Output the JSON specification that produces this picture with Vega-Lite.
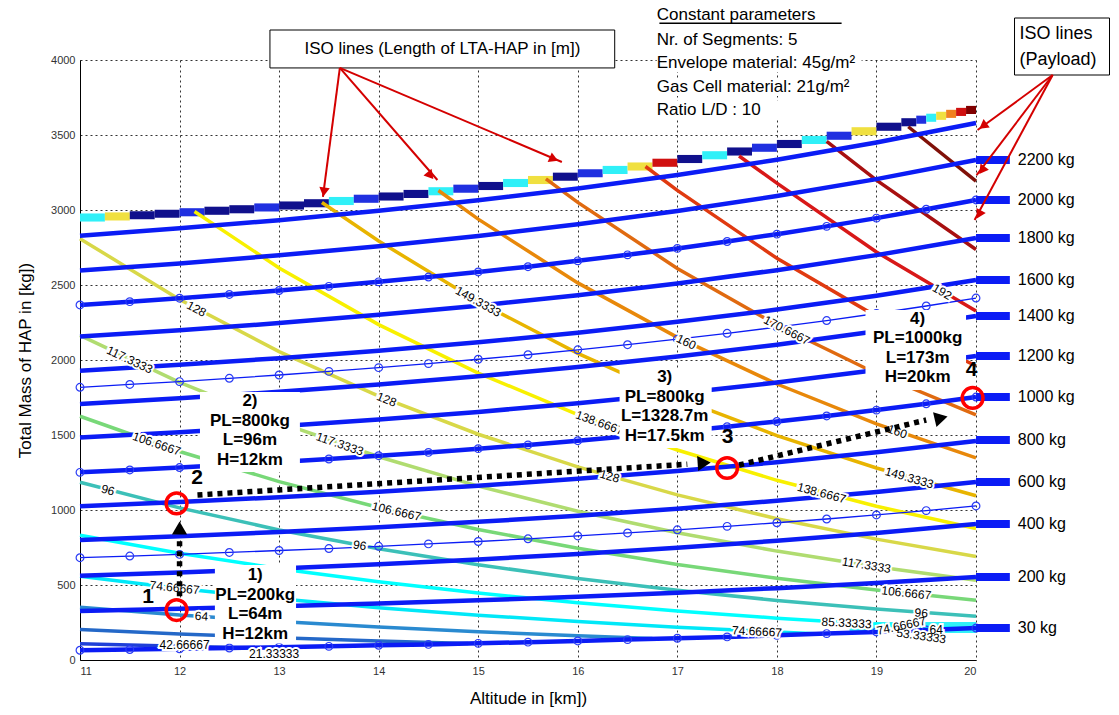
{
"$schema": "https://vega.github.io/schema/vega-lite/v6.json",
"width": 896, "height": 600,
"autosize": {"type": "none"},
"padding": {"left": 80, "top": 60, "right": 143, "bottom": 55},
"background": "white",
"config": {"view": {"stroke": null}, "font": "Liberation Sans"},
"resolve": {"scale": {"color": "independent"}},
"datasets": {
"pay": [
{"id":"p2400","k":"thick","h":11,"m":2829},{"id":"p2400","k":"thick","h":12,"m":2878},{"id":"p2400","k":"thick","h":13,"m":2932},{"id":"p2400","k":"thick","h":14,"m":2995},{"id":"p2400","k":"thick","h":15,"m":3065},{"id":"p2400","k":"thick","h":16,"m":3144},{"id":"p2400","k":"thick","h":17,"m":3234},{"id":"p2400","k":"thick","h":18,"m":3335},{"id":"p2400","k":"thick","h":19,"m":3450},{"id":"p2400","k":"thick","h":20,"m":3580},
{"id":"p2200","k":"thick","h":11,"m":2596},{"id":"p2200","k":"thick","h":12,"m":2644},{"id":"p2200","k":"thick","h":13,"m":2698},{"id":"p2200","k":"thick","h":14,"m":2758},{"id":"p2200","k":"thick","h":15,"m":2827},{"id":"p2200","k":"thick","h":16,"m":2905},{"id":"p2200","k":"thick","h":17,"m":2993},{"id":"p2200","k":"thick","h":18,"m":3093},{"id":"p2200","k":"thick","h":19,"m":3206},{"id":"p2200","k":"thick","h":20,"m":3333},
{"id":"p2000","k":"thick","h":11,"m":2367},{"id":"p2000","k":"thick","h":11.5,"m":2389},{"id":"p2000","k":"thick","h":12,"m":2412},{"id":"p2000","k":"thick","h":12.5,"m":2437},{"id":"p2000","k":"thick","h":13,"m":2463},{"id":"p2000","k":"thick","h":13.5,"m":2491},{"id":"p2000","k":"thick","h":14,"m":2521},{"id":"p2000","k":"thick","h":14.5,"m":2553},{"id":"p2000","k":"thick","h":15,"m":2587},{"id":"p2000","k":"thick","h":15.5,"m":2622},{"id":"p2000","k":"thick","h":16,"m":2661},{"id":"p2000","k":"thick","h":16.5,"m":2701},{"id":"p2000","k":"thick","h":17,"m":2744},{"id":"p2000","k":"thick","h":17.5,"m":2790},{"id":"p2000","k":"thick","h":18,"m":2839},{"id":"p2000","k":"thick","h":18.5,"m":2891},{"id":"p2000","k":"thick","h":19,"m":2946},{"id":"p2000","k":"thick","h":19.5,"m":3005},{"id":"p2000","k":"thick","h":20,"m":3067},
{"id":"p1800","k":"thick","h":11,"m":2156},{"id":"p1800","k":"thick","h":12,"m":2198},{"id":"p1800","k":"thick","h":13,"m":2246},{"id":"p1800","k":"thick","h":14,"m":2301},{"id":"p1800","k":"thick","h":15,"m":2362},{"id":"p1800","k":"thick","h":16,"m":2432},{"id":"p1800","k":"thick","h":17,"m":2510},{"id":"p1800","k":"thick","h":18,"m":2599},{"id":"p1800","k":"thick","h":19,"m":2699},{"id":"p1800","k":"thick","h":20,"m":2813},
{"id":"p1600","k":"thick","h":11,"m":1929},{"id":"p1600","k":"thick","h":12,"m":1968},{"id":"p1600","k":"thick","h":13,"m":2012},{"id":"p1600","k":"thick","h":14,"m":2062},{"id":"p1600","k":"thick","h":15,"m":2118},{"id":"p1600","k":"thick","h":16,"m":2182},{"id":"p1600","k":"thick","h":17,"m":2255},{"id":"p1600","k":"thick","h":18,"m":2336},{"id":"p1600","k":"thick","h":19,"m":2429},{"id":"p1600","k":"thick","h":20,"m":2533},
{"id":"p1500","k":"thin","h":11,"m":1818},{"id":"p1500","k":"thin","h":11.5,"m":1837},{"id":"p1500","k":"thin","h":12,"m":1856},{"id":"p1500","k":"thin","h":12.5,"m":1878},{"id":"p1500","k":"thin","h":13,"m":1900},{"id":"p1500","k":"thin","h":13.5,"m":1924},{"id":"p1500","k":"thin","h":14,"m":1949},{"id":"p1500","k":"thin","h":14.5,"m":1976},{"id":"p1500","k":"thin","h":15,"m":2005},{"id":"p1500","k":"thin","h":15.5,"m":2035},{"id":"p1500","k":"thin","h":16,"m":2068},{"id":"p1500","k":"thin","h":16.5,"m":2102},{"id":"p1500","k":"thin","h":17,"m":2139},{"id":"p1500","k":"thin","h":17.5,"m":2178},{"id":"p1500","k":"thin","h":18,"m":2219},{"id":"p1500","k":"thin","h":18.5,"m":2263},{"id":"p1500","k":"thin","h":19,"m":2310},{"id":"p1500","k":"thin","h":19.5,"m":2360},{"id":"p1500","k":"thin","h":20,"m":2413},
{"id":"p1400","k":"thick","h":11,"m":1707},{"id":"p1400","k":"thick","h":12,"m":1745},{"id":"p1400","k":"thick","h":13,"m":1788},{"id":"p1400","k":"thick","h":14,"m":1836},{"id":"p1400","k":"thick","h":15,"m":1891},{"id":"p1400","k":"thick","h":16,"m":1953},{"id":"p1400","k":"thick","h":17,"m":2023},{"id":"p1400","k":"thick","h":18,"m":2102},{"id":"p1400","k":"thick","h":19,"m":2192},{"id":"p1400","k":"thick","h":20,"m":2293},
{"id":"p1200","k":"thick","h":11,"m":1484},{"id":"p1200","k":"thick","h":12,"m":1519},{"id":"p1200","k":"thick","h":13,"m":1559},{"id":"p1200","k":"thick","h":14,"m":1604},{"id":"p1200","k":"thick","h":15,"m":1654},{"id":"p1200","k":"thick","h":16,"m":1712},{"id":"p1200","k":"thick","h":17,"m":1777},{"id":"p1200","k":"thick","h":18,"m":1850},{"id":"p1200","k":"thick","h":19,"m":1933},{"id":"p1200","k":"thick","h":20,"m":2027},
{"id":"p1000","k":"thick","h":11,"m":1251},{"id":"p1000","k":"thick","h":11.5,"m":1267},{"id":"p1000","k":"thick","h":12,"m":1283},{"id":"p1000","k":"thick","h":12.5,"m":1301},{"id":"p1000","k":"thick","h":13,"m":1320},{"id":"p1000","k":"thick","h":13.5,"m":1340},{"id":"p1000","k":"thick","h":14,"m":1362},{"id":"p1000","k":"thick","h":14.5,"m":1384},{"id":"p1000","k":"thick","h":15,"m":1409},{"id":"p1000","k":"thick","h":15.5,"m":1434},{"id":"p1000","k":"thick","h":16,"m":1462},{"id":"p1000","k":"thick","h":16.5,"m":1491},{"id":"p1000","k":"thick","h":17,"m":1522},{"id":"p1000","k":"thick","h":17.5,"m":1555},{"id":"p1000","k":"thick","h":18,"m":1590},{"id":"p1000","k":"thick","h":18.5,"m":1627},{"id":"p1000","k":"thick","h":19,"m":1666},{"id":"p1000","k":"thick","h":19.5,"m":1708},{"id":"p1000","k":"thick","h":20,"m":1753},
{"id":"p800","k":"thick","h":11,"m":1025},{"id":"p800","k":"thick","h":12,"m":1053},{"id":"p800","k":"thick","h":13,"m":1085},{"id":"p800","k":"thick","h":14,"m":1121},{"id":"p800","k":"thick","h":15,"m":1162},{"id":"p800","k":"thick","h":16,"m":1208},{"id":"p800","k":"thick","h":17,"m":1260},{"id":"p800","k":"thick","h":18,"m":1318},{"id":"p800","k":"thick","h":19,"m":1385},{"id":"p800","k":"thick","h":20,"m":1460},
{"id":"p600","k":"thick","h":11,"m":800},{"id":"p600","k":"thick","h":12,"m":825},{"id":"p600","k":"thick","h":13,"m":853},{"id":"p600","k":"thick","h":14,"m":885},{"id":"p600","k":"thick","h":15,"m":921},{"id":"p600","k":"thick","h":16,"m":962},{"id":"p600","k":"thick","h":17,"m":1009},{"id":"p600","k":"thick","h":18,"m":1061},{"id":"p600","k":"thick","h":19,"m":1120},{"id":"p600","k":"thick","h":20,"m":1187},
{"id":"p500","k":"thin","h":11,"m":682},{"id":"p500","k":"thin","h":11.5,"m":693},{"id":"p500","k":"thin","h":12,"m":704},{"id":"p500","k":"thin","h":12.5,"m":717},{"id":"p500","k":"thin","h":13,"m":730},{"id":"p500","k":"thin","h":13.5,"m":743},{"id":"p500","k":"thin","h":14,"m":758},{"id":"p500","k":"thin","h":14.5,"m":774},{"id":"p500","k":"thin","h":15,"m":790},{"id":"p500","k":"thin","h":15.5,"m":808},{"id":"p500","k":"thin","h":16,"m":827},{"id":"p500","k":"thin","h":16.5,"m":847},{"id":"p500","k":"thin","h":17,"m":868},{"id":"p500","k":"thin","h":17.5,"m":891},{"id":"p500","k":"thin","h":18,"m":915},{"id":"p500","k":"thin","h":18.5,"m":940},{"id":"p500","k":"thin","h":19,"m":967},{"id":"p500","k":"thin","h":19.5,"m":996},{"id":"p500","k":"thin","h":20,"m":1027},
{"id":"p400","k":"thick","h":11,"m":562},{"id":"p400","k":"thick","h":12,"m":584},{"id":"p400","k":"thick","h":13,"m":610},{"id":"p400","k":"thick","h":14,"m":638},{"id":"p400","k":"thick","h":15,"m":670},{"id":"p400","k":"thick","h":16,"m":707},{"id":"p400","k":"thick","h":17,"m":748},{"id":"p400","k":"thick","h":18,"m":795},{"id":"p400","k":"thick","h":19,"m":847},{"id":"p400","k":"thick","h":20,"m":907},
{"id":"p200","k":"thick","h":11,"m":327},{"id":"p200","k":"thick","h":12,"m":342},{"id":"p200","k":"thick","h":13,"m":358},{"id":"p200","k":"thick","h":14,"m":377},{"id":"p200","k":"thick","h":15,"m":398},{"id":"p200","k":"thick","h":16,"m":422},{"id":"p200","k":"thick","h":17,"m":449},{"id":"p200","k":"thick","h":18,"m":479},{"id":"p200","k":"thick","h":19,"m":514},{"id":"p200","k":"thick","h":20,"m":553},
{"id":"p30","k":"thick","h":11,"m":65},{"id":"p30","k":"thick","h":11.5,"m":70},{"id":"p30","k":"thick","h":12,"m":75},{"id":"p30","k":"thick","h":12.5,"m":80},{"id":"p30","k":"thick","h":13,"m":85},{"id":"p30","k":"thick","h":13.5,"m":91},{"id":"p30","k":"thick","h":14,"m":98},{"id":"p30","k":"thick","h":14.5,"m":104},{"id":"p30","k":"thick","h":15,"m":111},{"id":"p30","k":"thick","h":15.5,"m":119},{"id":"p30","k":"thick","h":16,"m":127},{"id":"p30","k":"thick","h":16.5,"m":136},{"id":"p30","k":"thick","h":17,"m":145},{"id":"p30","k":"thick","h":17.5,"m":154},{"id":"p30","k":"thick","h":18,"m":165},{"id":"p30","k":"thick","h":18.5,"m":176},{"id":"p30","k":"thick","h":19,"m":187},{"id":"p30","k":"thick","h":19.5,"m":200},{"id":"p30","k":"thick","h":20,"m":213}
],
"con": [
{"L":"42.67","h":11,"m":108},{"L":"42.67","h":12,"m":92},{"L":"42.67","h":12.7,"m":82},
{"L":"53.33","h":11,"m":203},{"L":"53.33","h":12,"m":174},{"L":"53.33","h":13,"m":149},{"L":"53.33","h":14,"m":127},{"L":"53.33","h":14.9,"m":110},
{"L":"64","h":11,"m":351},{"L":"64","h":12,"m":300},{"L":"64","h":13,"m":257},{"L":"64","h":14,"m":220},{"L":"64","h":15,"m":188},{"L":"64","h":16,"m":161},{"L":"64","h":16.75,"m":143},
{"L":"74.67","h":11,"m":558},{"L":"74.67","h":12,"m":477},{"L":"74.67","h":13,"m":408},{"L":"74.67","h":14,"m":349},{"L":"74.67","h":15,"m":299},{"L":"74.67","h":16,"m":256},{"L":"74.67","h":17,"m":219},{"L":"74.67","h":18,"m":187},{"L":"74.67","h":18.45,"m":174},
{"L":"85.33","h":11,"m":832},{"L":"85.33","h":12,"m":712},{"L":"85.33","h":13,"m":609},{"L":"85.33","h":14,"m":521},{"L":"85.33","h":15,"m":446},{"L":"85.33","h":16,"m":381},{"L":"85.33","h":17,"m":326},{"L":"85.33","h":18,"m":279},{"L":"85.33","h":19,"m":239},{"L":"85.33","h":19.85,"m":209},
{"L":"96","h":11,"m":1185},{"L":"96","h":12,"m":1014},{"L":"96","h":13,"m":867},{"L":"96","h":14,"m":742},{"L":"96","h":15,"m":635},{"L":"96","h":16,"m":543},{"L":"96","h":17,"m":465},{"L":"96","h":18,"m":397},{"L":"96","h":19,"m":340},{"L":"96","h":20,"m":291},
{"L":"106.67","h":11,"m":1625},{"L":"106.67","h":12,"m":1390},{"L":"106.67","h":13,"m":1189},{"L":"106.67","h":14,"m":1017},{"L":"106.67","h":15,"m":870},{"L":"106.67","h":16,"m":745},{"L":"106.67","h":17,"m":637},{"L":"106.67","h":18,"m":545},{"L":"106.67","h":19,"m":466},{"L":"106.67","h":20,"m":399},
{"L":"117.33","h":11,"m":2164},{"L":"117.33","h":12,"m":1851},{"L":"117.33","h":13,"m":1584},{"L":"117.33","h":14,"m":1355},{"L":"117.33","h":15,"m":1159},{"L":"117.33","h":16,"m":992},{"L":"117.33","h":17,"m":848},{"L":"117.33","h":18,"m":726},{"L":"117.33","h":19,"m":621},{"L":"117.33","h":20,"m":531},
{"L":"128","h":11,"m":2809},{"L":"128","h":12,"m":2403},{"L":"128","h":13,"m":2056},{"L":"128","h":14,"m":1759},{"L":"128","h":15,"m":1505},{"L":"128","h":16,"m":1287},{"L":"128","h":17,"m":1101},{"L":"128","h":18,"m":942},{"L":"128","h":19,"m":806},{"L":"128","h":20,"m":690},
{"L":"138.67","h":12.15,"m":2990},{"L":"138.67","h":13,"m":2614},{"L":"138.67","h":14,"m":2236},{"L":"138.67","h":15,"m":1913},{"L":"138.67","h":16,"m":1636},{"L":"138.67","h":17,"m":1400},{"L":"138.67","h":18,"m":1198},{"L":"138.67","h":19,"m":1025},{"L":"138.67","h":20,"m":877},
{"L":"149.33","h":13.43,"m":3050},{"L":"149.33","h":14,"m":2793},{"L":"149.33","h":15,"m":2389},{"L":"149.33","h":16,"m":2044},{"L":"149.33","h":17,"m":1748},{"L":"149.33","h":18,"m":1496},{"L":"149.33","h":19,"m":1280},{"L":"149.33","h":20,"m":1095},
{"L":"160","h":14.6,"m":3130},{"L":"160","h":15,"m":2939},{"L":"160","h":16,"m":2514},{"L":"160","h":17,"m":2151},{"L":"160","h":18,"m":1840},{"L":"160","h":19,"m":1574},{"L":"160","h":20,"m":1347},
{"L":"170.67","h":15.68,"m":3207},{"L":"170.67","h":16,"m":3051},{"L":"170.67","h":17,"m":2610},{"L":"170.67","h":18,"m":2233},{"L":"170.67","h":19,"m":1910},{"L":"170.67","h":20,"m":1634},
{"L":"181.33","h":16.68,"m":3290},{"L":"181.33","h":17,"m":3131},{"L":"181.33","h":18,"m":2678},{"L":"181.33","h":19,"m":2291},{"L":"181.33","h":20,"m":1960},
{"L":"192","h":17.62,"m":3360},{"L":"192","h":18,"m":3179},{"L":"192","h":19,"m":2720},{"L":"192","h":20,"m":2327},
{"L":"202.67","h":18.5,"m":3457},{"L":"202.67","h":19,"m":3199},{"L":"202.67","h":20,"m":2737},
{"L":"213.33","h":19.32,"m":3555},{"L":"213.33","h":20,"m":3192}
],
"band": [
{"h":11,"h2":11.25,"m":2923,"m2":2977,"c":"cy"},{"h":11.25,"h2":11.5,"m":2930,"m2":2984,"c":"ye"},{"h":11.5,"h2":11.75,"m":2938,"m2":2992,"c":"db"},{"h":11.75,"h2":12,"m":2948,"m2":3002,"c":"db"},
{"h":12,"h2":12.25,"m":2958,"m2":3012,"c":"bl"},{"h":12.25,"h2":12.5,"m":2968,"m2":3022,"c":"db"},{"h":12.5,"h2":12.75,"m":2978,"m2":3032,"c":"db"},{"h":12.75,"h2":13,"m":2990,"m2":3044,"c":"bl"},
{"h":13,"h2":13.25,"m":3003,"m2":3057,"c":"db"},{"h":13.25,"h2":13.5,"m":3018,"m2":3072,"c":"db"},{"h":13.5,"h2":13.75,"m":3033,"m2":3087,"c":"cy"},{"h":13.75,"h2":14,"m":3048,"m2":3102,"c":"bl"},
{"h":14,"h2":14.25,"m":3063,"m2":3117,"c":"db"},{"h":14.25,"h2":14.5,"m":3080,"m2":3134,"c":"db"},{"h":14.5,"h2":14.75,"m":3098,"m2":3152,"c":"cy"},{"h":14.75,"h2":15,"m":3115,"m2":3169,"c":"bl"},
{"h":15,"h2":15.25,"m":3133,"m2":3187,"c":"db"},{"h":15.25,"h2":15.5,"m":3153,"m2":3207,"c":"cy"},{"h":15.5,"h2":15.75,"m":3173,"m2":3227,"c":"ye"},{"h":15.75,"h2":16,"m":3195,"m2":3249,"c":"db"},
{"h":16,"h2":16.25,"m":3218,"m2":3272,"c":"bl"},{"h":16.25,"h2":16.5,"m":3240,"m2":3294,"c":"cy"},{"h":16.5,"h2":16.75,"m":3263,"m2":3317,"c":"ye"},{"h":16.75,"h2":17,"m":3288,"m2":3342,"c":"rd"},
{"h":17,"h2":17.25,"m":3313,"m2":3367,"c":"db"},{"h":17.25,"h2":17.5,"m":3338,"m2":3392,"c":"cy"},{"h":17.5,"h2":17.75,"m":3363,"m2":3417,"c":"db"},{"h":17.75,"h2":18,"m":3388,"m2":3442,"c":"bl"},
{"h":18,"h2":18.25,"m":3413,"m2":3467,"c":"db"},{"h":18.25,"h2":18.5,"m":3440,"m2":3494,"c":"cy"},{"h":18.5,"h2":18.75,"m":3468,"m2":3522,"c":"bl"},{"h":18.75,"h2":19,"m":3498,"m2":3552,"c":"ye"},
{"h":19,"h2":19.25,"m":3528,"m2":3582,"c":"db"},{"h":19.25,"h2":19.4,"m":3558,"m2":3612,"c":"db"},{"h":19.4,"h2":19.5,"m":3575,"m2":3629,"c":"bl"},{"h":19.5,"h2":19.6,"m":3588,"m2":3642,"c":"cy"},
{"h":19.6,"h2":19.7,"m":3601,"m2":3655,"c":"ye"},{"h":19.7,"h2":19.8,"m":3614,"m2":3668,"c":"or"},{"h":19.8,"h2":19.9,"m":3627,"m2":3681,"c":"rd"},{"h":19.9,"h2":20,"m":3640,"m2":3694,"c":"dr"},
{"h":18.73,"h2":20,"m":180,"m2":253,"c":"cy"}
],
"stub": [
{"t":"2200 kg","m":3333},{"t":"2000 kg","m":3067},{"t":"1800 kg","m":2813},{"t":"1600 kg","m":2533},{"t":"1400 kg","m":2293},{"t":"1200 kg","m":2027},{"t":"1000 kg","m":1753},{"t":"800 kg","m":1467},{"t":"600 kg","m":1187},{"t":"400 kg","m":907},{"t":"200 kg","m":553},{"t":"30 kg","m":213}
],
"clab": [
{"t":"96","h":11.28,"m":1133,"a":15},{"t":"106.6667","h":11.77,"m":1441,"a":19},{"t":"117.3333","h":11.5,"m":2001,"a":25},{"t":"128","h":12.17,"m":2340,"a":28},
{"t":"128","h":14.08,"m":1737,"a":22},{"t":"117.3333","h":13.61,"m":1440,"a":19},{"t":"106.6667","h":14.18,"m":990,"a":13},{"t":"96","h":13.81,"m":764,"a":10},
{"t":"138.6667","h":16.22,"m":1581,"a":20},{"t":"128","h":16.32,"m":1225,"a":16},{"t":"160","h":19.21,"m":1522,"a":20},{"t":"149.3333","h":19.33,"m":1215,"a":16},
{"t":"160","h":17.09,"m":2120,"a":26},{"t":"192","h":19.66,"m":2455,"a":30},{"t":"149.3333","h":15.0,"m":2389,"a":29},{"t":"170.6667","h":18.1,"m":2198,"a":27},
{"t":"64","h":12.22,"m":292,"a":4},{"t":"74.66667","h":11.95,"m":482,"a":6},{"t":"85.33333","h":18.7,"m":247,"a":3},{"t":"96","h":19.45,"m":313,"a":4},
{"t":"106.6667","h":19.3,"m":447,"a":6},{"t":"74.66667","h":17.8,"m":190,"a":3},{"t":"138.6667","h":18.45,"m":1113,"a":15},{"t":"117.3333","h":18.9,"m":632,"a":9},
{"t":"42.66667","h":12.05,"m":100,"a":0},{"t":"21.33333","h":12.95,"m":42,"a":0},{"t":"74.66667","h":19.25,"m":228,"a":-12},{"t":"64","h":19.6,"m":200,"a":0},{"t":"53.33333","h":19.45,"m":160,"a":8}
]
},
"layer": [
{
"data": {"name": "band"},
"mark": {"type": "rect"},
"encoding": {
"x": {"field": "h", "type": "quantitative", "scale": {"domain": [11, 20], "nice": false, "zero": false},
 "axis": {"title": "Altitude in [km])", "values": [11,12,13,14,15,16,17,18,19,20], "format": "d", "grid": true, "gridDash": [2,3], "gridColor": "#000", "gridOpacity": 0.8, "domainColor": "#000", "ticks": false, "labelFontSize": 11, "labelColor": "#333", "labelPadding": 5, "titleFontSize": 17, "titleFontWeight": "normal", "titleColor": "#000", "titlePadding": 14, "labelFont": "Liberation Sans", "titleFont": "Liberation Sans"}},
"x2": {"field": "h2"},
"y": {"field": "m", "type": "quantitative", "scale": {"domain": [0, 4000], "nice": false},
 "axis": {"title": "Total Mass of HAP in [kg])", "values": [0,500,1000,1500,2000,2500,3000,3500,4000], "format": "d", "grid": true, "gridDash": [2,3], "gridColor": "#000", "gridOpacity": 0.8, "domainColor": "#000", "ticks": false, "labelFontSize": 11, "labelColor": "#333", "labelPadding": 5, "titleFontSize": 17, "titleFontWeight": "normal", "titleColor": "#000", "titlePadding": 16, "labelFont": "Liberation Sans", "titleFont": "Liberation Sans"}},
"y2": {"field": "m2"},
"color": {"field": "c", "type": "nominal", "legend": null, "scale": {"domain": ["db","bl","cy","ye","or","rd","dr"], "range": ["#10108c","#2030e0","#30f0f8","#f0e040","#f08020","#d01010","#800000"]}}
}
},
{
"data": {"name": "con"},
"mark": {"type": "line", "strokeWidth": 3.5, "strokeJoin": "miter"},
"encoding": {
"x": {"field": "h", "type": "quantitative"},
"y": {"field": "m", "type": "quantitative"},
"stroke": {"field": "L", "type": "nominal", "legend": null, "scale": {"domain": ["42.67","53.33","64","74.67","85.33","96","106.67","117.33","128","138.67","149.33","160","170.67","181.33","192","202.67","213.33"], "range": ["#1f3fd8","#2468c8","#2a8ad0","#00e8f8","#00ffff","#3cc0b8","#78d878","#b0dc70","#d8d848","#f8f000","#e8b400","#e8880a","#e06a10","#e03a10","#d81818","#a81010","#801008"]}}
}
},
{
"data": {"name": "pay"},
"transform": [{"filter": "datum.k === 'thick'"}],
"mark": {"type": "line", "strokeWidth": 4.5, "color": "#0b1cf5"},
"encoding": {
"x": {"field": "h", "type": "quantitative"},
"y": {"field": "m", "type": "quantitative"},
"detail": {"field": "id"}
}
},
{
"data": {"name": "pay"},
"transform": [{"filter": "datum.k === 'thin'"}],
"mark": {"type": "line", "strokeWidth": 1.3, "color": "#0b1cf5"},
"encoding": {
"x": {"field": "h", "type": "quantitative"},
"y": {"field": "m", "type": "quantitative"},
"detail": {"field": "id"}
}
},
{
"data": {"name": "pay"},
"transform": [{"filter": {"field": "id", "oneOf": ["p2000","p1500","p1000","p500","p30"]}}],
"mark": {"type": "point", "filled": false, "size": 60, "color": "#2a3cf5", "strokeWidth": 1.2, "opacity": 1},
"encoding": {
"x": {"field": "h", "type": "quantitative"},
"y": {"field": "m", "type": "quantitative"}
}
},
{
"data": {"name": "stub"},
"mark": {"type": "rule", "strokeWidth": 8, "color": "#0b1cf5"},
"encoding": {
"x": {"datum": 20}, "x2": {"datum": 20.34},
"y": {"field": "m", "type": "quantitative"}
}
},
{
"data": {"name": "stub"},
"mark": {"type": "text", "align": "left", "baseline": "middle", "fontSize": 16, "color": "#000", "font": "Liberation Sans"},
"encoding": {
"x": {"datum": 20.42},
"y": {"field": "m", "type": "quantitative"},
"text": {"field": "t"}
}
},
{
"data": {"name": "clab"},
"mark": {"type": "text", "align": "center", "baseline": "middle", "fontSize": 12, "stroke": "white", "strokeWidth": 4, "color": "white", "font": "Liberation Sans"},
"encoding": {
"x": {"field": "h", "type": "quantitative"},
"y": {"field": "m", "type": "quantitative"},
"text": {"field": "t"},
"angle": {"field": "a", "type": "quantitative", "scale": null}
}
},
{
"data": {"name": "clab"},
"mark": {"type": "text", "align": "center", "baseline": "middle", "fontSize": 12, "color": "#000", "font": "Liberation Sans"},
"encoding": {
"x": {"field": "h", "type": "quantitative"},
"y": {"field": "m", "type": "quantitative"},
"text": {"field": "t"},
"angle": {"field": "a", "type": "quantitative", "scale": null}
}
},
{
"data": {"values": [
{"h":12.355,"h2":13.17,"m":633,"m2":110},
{"h":12.205,"h2":13.209,"m":1787,"m2":1253},
{"h":16.42,"h2":17.345,"m":1947,"m2":1413},
{"h":18.89,"h2":19.9,"m":2333,"m2":1800},
{"h":16.793,"h2":18.851,"m":4040,"m2":3920},
{"h":16.793,"h2":18.7,"m":3880,"m2":3760},
{"h":16.793,"h2":18.1,"m":3730,"m2":3600}
]},
"mark": {"type": "rect", "color": "white"},
"encoding": {
"x": {"field": "h", "type": "quantitative"}, "x2": {"field": "h2"},
"y": {"field": "m", "type": "quantitative"}, "y2": {"field": "m2"}
}
},
{
"data": {"values": [
{"h":12.908,"h2":16.371,"m":4200,"m2":3947},
{"h":20.387,"h2":21.341,"m":4280,"m2":3900}
]},
"mark": {"type": "rect", "fill": "white", "stroke": "#000", "strokeWidth": 1},
"encoding": {
"x": {"field": "h", "type": "quantitative"}, "x2": {"field": "h2"},
"y": {"field": "m", "type": "quantitative"}, "y2": {"field": "m2"}
}
},
{
"data": {"values": [
{"t":"ISO lines (Length of LTA-HAP in [m])","h":14.64,"m":4073}
]},
"mark": {"type": "text", "align": "center", "baseline": "middle", "fontSize": 17, "color": "#000", "font": "Liberation Sans"},
"encoding": {
"x": {"field": "h", "type": "quantitative"},
"y": {"field": "m", "type": "quantitative"},
"text": {"field": "t"}
}
},
{
"data": {"values": [
{"t":"ISO lines","m":4173},
{"t":"(Payload)","m":4000}
]},
"mark": {"type": "text", "align": "left", "baseline": "middle", "fontSize": 18, "color": "#000", "font": "Liberation Sans"},
"encoding": {
"x": {"datum": 20.437},
"y": {"field": "m", "type": "quantitative"},
"text": {"field": "t"}
}
},
{
"data": {"values": [
{"t":"Constant parameters","m":4300},
{"t":"Nr. of Segments: 5","m":4133},
{"t":"Envelope material: 45g/m²","m":3980},
{"t":"Gas Cell material: 21g/m²","m":3820},
{"t":"Ratio L/D : 10","m":3667}
]},
"mark": {"type": "text", "align": "left", "baseline": "middle", "fontSize": 17, "color": "#000", "font": "Liberation Sans"},
"encoding": {
"x": {"datum": 16.793},
"y": {"field": "m", "type": "quantitative"},
"text": {"field": "t"}
}
},
{
"data": {"values": [{"h":16.82,"h2":18.65,"m":4245}]},
"mark": {"type": "rule", "strokeWidth": 1.3, "color": "#000"},
"encoding": {
"x": {"field": "h", "type": "quantitative"}, "x2": {"field": "h2"},
"y": {"field": "m", "type": "quantitative"}
}
},
{
"data": {"values": [
{"t":"1)\nPL=200kg\nL=64m\nH=12km","h":12.76,"m":620},
{"t":"2)\nPL=800kg\nL=96m\nH=12km","h":12.707,"m":1780},
{"t":"3)\nPL=800kg\nL=1328.7m\nH=17.5km","h":16.873,"m":1940},
{"t":"4)\nPL=1000kg\nL=173m\nH=20km","h":19.414,"m":2328}
]},
"mark": {"type": "text", "align": "center", "baseline": "top", "fontSize": 17, "fontWeight": "bold", "lineHeight": 19.5, "lineBreak": "\n", "color": "#000", "font": "Liberation Sans"},
"encoding": {
"x": {"field": "h", "type": "quantitative"},
"y": {"field": "m", "type": "quantitative"},
"text": {"field": "t"}
}
},
{
"data": {"values": [
{"t":"1","h":11.683,"m":420},
{"t":"2","h":12.175,"m":1213},
{"t":"3","h":17.506,"m":1487},
{"t":"4","h":19.956,"m":1933}
]},
"mark": {"type": "text", "align": "center", "baseline": "middle", "fontSize": 21, "fontWeight": "bold", "color": "#000", "font": "Liberation Sans"},
"encoding": {
"x": {"field": "h", "type": "quantitative"},
"y": {"field": "m", "type": "quantitative"},
"text": {"field": "t"}
}
},
{
"data": {"values": [
{"h":12,"m":425,"h2":12,"m2":820},
{"h":12.18,"m":1100,"h2":17.1,"m2":1305},
{"h":17.62,"m":1300,"h2":19.5,"m2":1600}
]},
"mark": {"type": "rule", "strokeWidth": 5.5, "strokeDash": [5,5], "color": "#000"},
"encoding": {
"x": {"field": "h", "type": "quantitative"}, "x2": {"field": "h2"},
"y": {"field": "m", "type": "quantitative"}, "y2": {"field": "m2"}
}
},
{
"data": {"values": [
{"h":12,"m":880,"a":0},
{"h":17.27,"m":1313,"a":86},
{"h":19.65,"m":1613,"a":77}
]},
"mark": {"type": "point", "shape": "triangle-up", "filled": true, "size": 230, "color": "#000", "opacity": 1},
"encoding": {
"x": {"field": "h", "type": "quantitative"},
"y": {"field": "m", "type": "quantitative"},
"angle": {"field": "a", "type": "quantitative", "scale": null}
}
},
{
"data": {"values": [
{"h":13.61,"m":3947,"h2":13.44,"m2":3087},
{"h":13.61,"m":3947,"h2":14.59,"m2":3200},
{"h":13.61,"m":3947,"h2":15.84,"m2":3320},
{"h":20.77,"m":3900,"h2":20.016,"m2":3533},
{"h":20.77,"m":3900,"h2":20.006,"m2":3233},
{"h":20.77,"m":3900,"h2":19.986,"m2":2933}
]},
"mark": {"type": "rule", "strokeWidth": 2, "color": "#d40000"},
"encoding": {
"x": {"field": "h", "type": "quantitative"}, "x2": {"field": "h2"},
"y": {"field": "m", "type": "quantitative"}, "y2": {"field": "m2"}
}
},
{
"data": {"values": [
{"h":13.45,"m":3120,"a":188},
{"h":14.52,"m":3230,"a":140},
{"h":15.76,"m":3340,"a":113},
{"h":20.07,"m":3560,"a":234},
{"h":20.06,"m":3265,"a":217},
{"h":20.03,"m":2970,"a":208}
]},
"mark": {"type": "point", "shape": "triangle-up", "filled": true, "size": 110, "color": "#d40000", "opacity": 1},
"encoding": {
"x": {"field": "h", "type": "quantitative"},
"y": {"field": "m", "type": "quantitative"},
"angle": {"field": "a", "type": "quantitative", "scale": null}
}
},
{
"data": {"values": [
{"h":11.97,"m":333},
{"h":11.97,"m":1044},
{"h":17.5,"m":1280},
{"h":19.966,"m":1747}
]},
"mark": {"type": "point", "filled": false, "size": 430, "color": "#ff0000", "strokeWidth": 3.5, "opacity": 1},
"encoding": {
"x": {"field": "h", "type": "quantitative"},
"y": {"field": "m", "type": "quantitative"}
}
}
]
}
